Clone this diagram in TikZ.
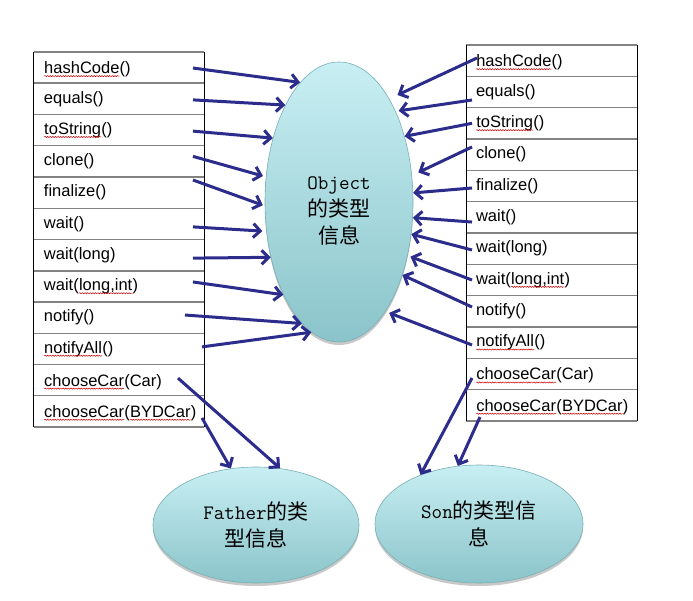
\documentclass[tikz,border=0pt]{standalone}
\usepackage{fontspec}
\setmainfont{Liberation Sans}
\newfontfamily\cjkf{Noto Sans CJK SC}
\usetikzlibrary{arrows.meta,shapes.geometric,shadows,decorations.pathmorphing}
\definecolor{arrowblue}{RGB}{44,44,140}
\definecolor{bubtop}{RGB}{200,239,243}
\definecolor{bubbot}{RGB}{138,196,202}
\definecolor{bubedge}{RGB}{120,176,182}
\definecolor{rowgray}{RGB}{130,130,130}
\newcommand\monot{\ttfamily\fontsize{20.5bp}{27bp}\selectfont}
\newcommand\sqw[1]{\tikz[baseline=(sqtmp.base)]{\node[inner sep=0pt,outer sep=0pt] (sqtmp) {#1};\draw[red!80!black,line width=0.5pt,decorate,decoration={snake,amplitude=0.6pt,segment length=2.6pt}] ([yshift=-2.6pt]sqtmp.base west) -- ([yshift=-2.6pt]sqtmp.base east);}}
\tikzset{
  cellL/.style={rectangle, minimum height=31.25bp, text width=150bp, inner xsep=10bp, inner ysep=0pt, outer sep=0pt, align=left, font=\fontsize{16.5bp}{19bp}\selectfont},
  cellR/.style={cellL, minimum height=31.33bp, text width=151bp},
  hline/.style={draw=rowgray, line width=1.5bp},
  vline/.style={draw=black, line width=1bp},
  bubble/.style={ellipse, inner sep=0pt, draw=bubedge, line width=0.6bp, top color=bubtop, bottom color=bubbot,
    drop shadow={shadow xshift=0bp, shadow yshift=-3bp, opacity=0.3, fill=black!70}},
  arr/.style={draw=arrowblue, line width=3bp, -{Straight Barb[length=7bp,width=14bp]}},
  bubtext/.style={align=center, font=\fontsize{21bp}{27bp}\selectfont}
}
\begin{document}
\begin{tikzpicture}[x=1bp,y=-1bp]
\fill[white] (0,0) rectangle (693,601);
\useasboundingbox (0,0) rectangle (693,601);

% ellipses
\node[bubble, minimum width=148bp, minimum height=280bp] (obj) at (339,202) {};
\node[bubtext] (objtxt) at (339,211) {{\monot Object}\\{\cjkf 的类型}\\{\cjkf 信息}};
\node[bubble, bubtext, minimum width=206bp, minimum height=116bp] (fat) at (256,525) {{\monot Father}{\cjkf 的类}\\{\cjkf 型信息}};
\node[bubble, bubtext, minimum width=208bp, minimum height=118bp] (son) at (479,524) {{\monot Son}{\cjkf 的类型信}\\{\cjkf 息}};

% left table
\node[cellL] (L1) at (119,67.625) {\sqw{hashCode}()};
\node[cellL] (L2) at (119,98.875) {equals()};
\node[cellL] (L3) at (119,130.125) {\sqw{toString}()};
\node[cellL] (L4) at (119,161.375) {clone()};
\node[cellL] (L5) at (119,192.625) {finalize()};
\node[cellL] (L6) at (119,223.875) {wait()};
\node[cellL] (L7) at (119,255.125) {wait(long)};
\node[cellL] (L8) at (119,286.375) {wait(\sqw{long,int})};
\node[cellL] (L9) at (119,317.625) {notify()};
\node[cellL] (L10) at (119,348.875) {\sqw{notifyAll}()};
\node[cellL] (L11) at (119,380.125) {\sqw{chooseCar}(Car)};
\node[cellL] (L12) at (119,411.375) {\sqw{chooseCar}(\sqw{BYDCar})};
\foreach \i in {1,...,12} \draw[hline] (L\i.north west) -- (L\i.north east);
\draw[hline] (L12.south west) -- (L12.south east);
\draw[vline] (L1.north west) -- (L12.south west);
\draw[vline] (L1.north east) -- (L12.south east);

% right table
\node[cellR] (R1) at (551.5,60.67) {\sqw{hashCode}()};
\node[cellR] (R2) at (551.5,92) {equals()};
\node[cellR] (R3) at (551.5,123.33) {\sqw{toString}()};
\node[cellR] (R4) at (551.5,154.67) {clone()};
\node[cellR] (R5) at (551.5,186) {finalize()};
\node[cellR] (R6) at (551.5,217.33) {wait()};
\node[cellR] (R7) at (551.5,248.67) {wait(long)};
\node[cellR] (R8) at (551.5,280) {wait(\sqw{long,int})};
\node[cellR] (R9) at (551.5,311.33) {notify()};
\node[cellR] (R10) at (551.5,342.67) {\sqw{notifyAll}()};
\node[cellR] (R11) at (551.5,374) {\sqw{chooseCar}(Car)};
\node[cellR] (R12) at (551.5,405.33) {\sqw{chooseCar}(\sqw{BYDCar})};
\foreach \i in {1,...,12} \draw[hline] (R\i.north west) -- (R\i.north east);
\draw[hline] (R12.south west) -- (R12.south east);
\draw[vline] (R1.north west) -- (R12.south west);
\draw[vline] (R1.north east) -- (R12.south east);

% left arrows
\draw[arr] ([shift={(-11,0.4)}]L1.east) -- (obj.108.1);
\draw[arr] ([shift={(-11,1)}]L2.east) -- (obj.119);
\draw[arr] ([shift={(-11,1)}]L3.east) -- (obj.136.3);
\draw[arr, shorten >=3bp] ([shift={(-11,-5)}]L4.east) -- (obj.161.8);
\draw[arr, shorten >=2bp] ([shift={(-11,-12.6)}]L5.east) -- (obj.183.8);
\draw[arr, shorten >=4bp] ([shift={(-11,3)}]L6.east) -- (obj.202.2);
\draw[arr] ([shift={(-11,3)}]L7.east) -- (obj.219.9);
\draw[arr] ([shift={(-11,-4.4)}]L8.east) -- (obj.239.4);
\draw[arr] ([shift={(-19,-2.6)}]L9.east) -- (obj.253.3);
\draw[arr] ([shift={(-2,-2)}]L10.east) -- (obj.258.5);
\draw[arr] ([shift={(-26,-2)}]L11.east) -- (fat.67.5);
\draw[arr] ([shift={(-2,6.6)}]L12.east) -- (fat.114.4);

% right arrows
\draw[arr, shorten >=9bp] ([shift={(11,-2.7)}]R1.west) -- (obj.64.3);
\draw[arr, shorten >=3bp] ([shift={(6,8)}]R2.west) -- (obj.58.3);
\draw[arr] ([shift={(6,0)}]R3.west) -- (obj.45.4);
\draw[arr, shorten >=7bp] ([shift={(6,-7.7)}]R4.west) -- (obj.20.8);
\draw[arr] ([shift={(6,2)}]R5.west) -- (obj.7.2);
\draw[arr] ([shift={(6,4.7)}]R6.west) -- (obj.-12.7);
\draw[arr] ([shift={(6,1.3)}]R7.west) -- (obj.-24.9);
\draw[arr, shorten >=3bp] ([shift={(6,0)}]R8.west) -- (obj.-38.3);
\draw[arr] ([shift={(6,-4.3)}]R9.west) -- (obj.-49.2);
\draw[arr, shorten >=4bp] ([shift={(6,2.3)}]R10.west) -- (obj.-67);
\draw[arr] ([shift={(6,4)}]R11.west) -- (son.140.8);
\draw[arr] ([shift={(14,11.7)}]R12.west) -- (son.110);
\end{tikzpicture}
\end{document}
